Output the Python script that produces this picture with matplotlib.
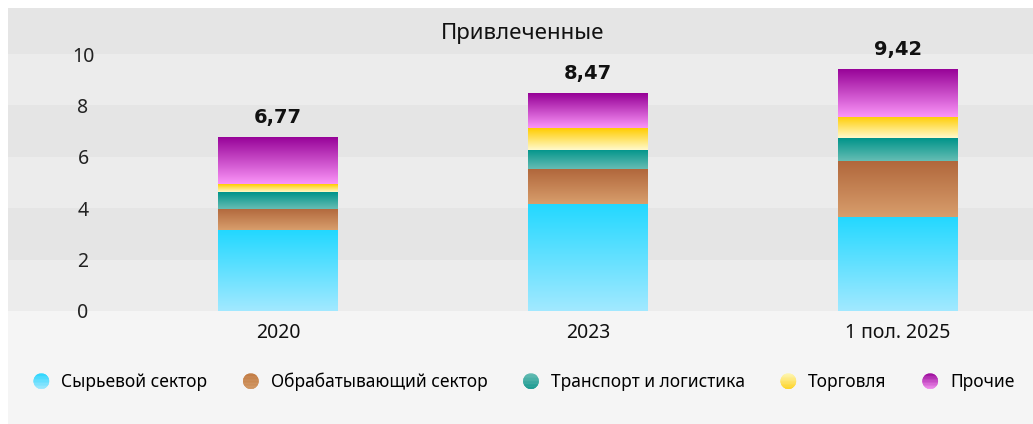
import numpy as np
import matplotlib
matplotlib.use('Agg')
import matplotlib.pyplot as plt
from matplotlib.colors import LinearSegmentedColormap
from matplotlib.patches import Polygon, Patch, Rectangle
from matplotlib.legend_handler import HandlerBase

plt.rcParams['font.family'] = ['Noto Sans', 'DejaVu Sans']

#%% data

periods = ['2020', '2023', '1 пол. 2025']
sectors = ['Сырьевой сектор', 'Обрабатывающий сектор', 'Транспорт и логистика',
           'Торговля', 'Прочие']
raw = [3.15, 4.17, 3.67]
manuf = [0.83, 1.36, 2.17]
transport = [0.66, 0.74, 0.89]
trade = [0.30, 0.84, 0.82]
other = [1.83, 1.36, 1.87]
totals = [6.77, 8.47, 9.42]
total_labels = ['6,77', '8,47', '9,42']
yticks = [0, 2, 4, 6, 8, 10]

series = [raw, manuf, transport, trade, other]
# (bottom colour, top colour) of each segment gradient
bar_grad = [('#a2e9ff', '#22d8ff'),
            ('#d89e6c', '#b1673c'),
            ('#66bdb4', '#00948a'),
            ('#fffacc', '#ffcc00'),
            ('#fb95f8', '#950096')]
# (top, bottom) of the legend dots
dot_grad = [('#25d6ff', '#9fe8ff'),
            ('#c2793f', '#d0945f'),
            ('#5fbab1', '#0f968c'),
            ('#fff6b0', '#ffd21a'),
            ('#9a049a', '#f38ef0')]


class GradDot(HandlerBase):
    def __init__(self, top, bottom):
        super().__init__()
        self.top = np.array(matplotlib.colors.to_rgb(top))
        self.bottom = np.array(matplotlib.colors.to_rgb(bottom))

    def create_artists(self, legend, orig_handle, xdescent, ydescent,
                       width, height, fontsize, trans):
        r = 0.44 * fontsize
        cx = -xdescent + width - r
        cy = -ydescent + height / 2
        n = 20
        arts = []
        for i in range(n):
            y0 = -r + 2 * r * i / n
            ys = np.linspace(y0, y0 + 2 * r / n, 5)
            xs = np.sqrt(np.maximum(r ** 2 - ys ** 2, 0))
            pts = np.concatenate([np.c_[cx - xs, cy + ys],
                                  np.c_[cx + xs[::-1], cy + ys[::-1]]])
            t = (i + 0.5) / n
            c = self.bottom * (1 - t) + self.top * t
            arts.append(Polygon(pts, closed=True, fc=c, ec=c, lw=0.3,
                                transform=trans))
        return arts


#%% plot

fig = plt.figure(figsize=(10.33, 4.24), dpi=100)
fig.patches.append(Rectangle((8 / 1033, 0), 1, 416 / 424, transform=fig.transFigure,
                             fc='#f5f5f5', ec='none', zorder=-10))

ax = fig.add_axes([8 / 1033, 113 / 424, 1025 / 1033, 303 / 424])
ax.set_facecolor('none')
ymax = 303 / 25.7

for k in range(5):
    ax.axhspan(2 * k, 2 * k + 2, color='#ececec' if k % 2 == 0 else '#e5e5e5',
               lw=0, zorder=0)
ax.axhspan(10, ymax, color='#e5e5e5', lw=0, zorder=0)

x = np.arange(len(periods))
w = 0.387
grad = np.linspace(0, 1, 256).reshape(-1, 1)
bottom = np.zeros(len(periods))
for vals, (c0, c1) in zip(series, bar_grad):
    cmap = LinearSegmentedColormap.from_list('g', [c0, c1])
    bars = ax.bar(x, vals, w, bottom=bottom, color='none', lw=0, zorder=2)
    for b in bars:
        x0, y0 = b.get_xy()
        im = ax.imshow(grad, extent=[x0, x0 + b.get_width(), y0, y0 + b.get_height()],
                       origin='lower', aspect='auto', cmap=cmap, zorder=2,
                       interpolation='bilinear')
        im.set_clip_path(b)
    bottom += np.array(vals)

for xi, t, lab in zip(x, totals, total_labels):
    ax.annotate(lab, (xi, t), xytext=(0, 10), textcoords='offset points',
                ha='center', va='baseline', fontsize=14, fontweight='bold',
                family=['DejaVu Sans'], color='#111111')

ax.text(0.502, 0.917, 'Привлеченные', transform=ax.transAxes, ha='center',
        va='center', fontsize=16, color='#111111')

ax.set_xlim(-0.871, 2.435)
ax.set_ylim(0, ymax)
ax.set_xticks(x)
ax.set_xticklabels(periods, fontsize=14, color='#111111')
ax.set_yticks(yticks)
ax.set_yticklabels([str(v) for v in yticks], fontsize=14, color='#222222')
for l in ax.get_yticklabels():
    l.set_ha('center')
ax.tick_params(axis='y', length=0, pad=-54)
ax.tick_params(axis='x', length=0, pad=9)
for s in ax.spines.values():
    s.set_visible(False)

handles = [Patch() for _ in sectors]
hmap = {h: GradDot(*g) for h, g in zip(handles, dot_grad)}
fig.legend(handles, sectors, handler_map=hmap, ncol=5, loc='center',
           bbox_to_anchor=(523 / 1033, 42 / 424), frameon=False, fontsize=12.5,
           handlelength=1.0, handletextpad=0.7, columnspacing=1.95)

plt.savefig('out.png', dpi=100)
